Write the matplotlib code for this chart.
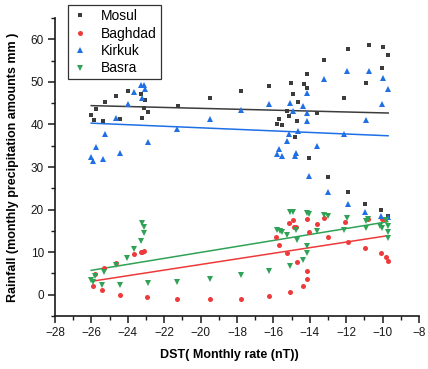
import numpy as np
import matplotlib
matplotlib.use("Agg")
import matplotlib.pyplot as plt
from matplotlib.ticker import MultipleLocator

plt.rcParams['font.family'] = ['Liberation Sans', 'DejaVu Sans']

# Monthly DST (nT) vs. monthly precipitation (mm) for four stations
mosul_x = [-26.01, -25.87, -25.74, -25.38, -25.27, -24.66, -24.44, -23.99, -23.30, -23.21,
           -23.12, -23.08, -22.89, -21.26, -19.49, -17.76, -16.22, -15.05, -14.34, -14.15,
           -14.14, -14.91, -14.67, -15.25, -15.14, -15.71, -15.82, -15.52, -14.72, -13.60,
           -14.83, -14.05, -13.00, -11.90, -13.21, -11.92, -10.76, -9.97, -9.69, -10.04,
           -10.91, -12.10, -10.96, -10.10, -9.73]
mosul_y = [42.15, 40.98, 43.56, 40.82, 45.20, 46.67, 41.38, 47.78, 47.24, 41.52,
           43.86, 45.83, 42.93, 44.43, 46.20, 47.85, 49.06, 49.72, 49.46, 51.76,
           48.60, 47.14, 45.27, 43.14, 42.04, 41.33, 40.00, 39.81, 40.70, 42.79,
           36.96, 32.04, 27.70, 24.19, 55.20, 57.68, 58.62, 58.15, 56.21, 53.28,
           49.72, 46.18, 21.38, 19.86, 18.57]

baghdad_x = [-25.92, -25.79, -25.40, -25.29, -24.66, -24.44, -23.66, -23.30, -23.21, -23.10,
             -22.92, -21.28, -19.51, -17.76, -16.22, -15.85, -15.71, -15.26, -14.68, -14.18,
             -14.14, -14.36, -15.08, -15.15, -14.94, -14.87, -14.75, -14.18, -14.07, -13.61,
             -13.23, -13.02, -12.09, -11.91, -10.97, -10.82, -10.10, -9.79, -9.73, -10.02,
             -9.88]
baghdad_y = [2.11, 4.92, 1.01, 6.32, 7.56, 0.00, 9.60, 10.07, 10.14, 10.23,
             -0.63, -1.01, -1.01, -0.94, -0.23, 13.47, 11.71, 9.77, 7.78, 5.62,
             3.75, 2.06, 0.63, 16.79, 17.45, 15.93, 15.81, 17.80, 14.82, 16.58,
             18.03, 13.58, 16.98, 12.30, 11.08, 17.75, 9.88, 8.85, 7.96, 17.73,
             17.87]

kirkuk_x = [-26.01, -25.90, -25.74, -25.38, -25.26, -24.66, -24.44, -24.01, -23.66, -23.30,
            -23.12, -23.08, -23.20, -22.89, -21.28, -19.49, -17.76, -16.22, -15.08, -14.90,
            -14.36, -14.16, -14.14, -14.16, -14.67, -15.15, -15.25, -15.71, -15.83, -15.52,
            -14.74, -14.83, -13.60, -14.05, -13.22, -11.94, -10.76, -9.97, -9.70, -10.04,
            -10.91, -12.10, -13.01, -11.92, -10.96, -10.10, -9.73]
kirkuk_y = [32.25, 31.38, 34.59, 31.85, 37.66, 41.41, 33.33, 44.89, 47.61, 49.18,
            49.37, 48.31, 46.18, 35.95, 38.83, 41.38, 43.49, 44.80, 45.04, 43.09,
            44.26, 47.47, 42.69, 40.75, 38.41, 37.87, 36.07, 34.15, 32.95, 32.55,
            33.18, 32.67, 35.01, 27.87, 50.66, 52.46, 52.53, 50.98, 48.41, 44.80,
            41.15, 37.70, 24.19, 21.24, 19.37, 18.50, 18.22]

basra_x = [-26.01, -25.89, -25.78, -25.40, -25.29, -24.66, -24.44, -24.03, -23.66, -23.30,
           -23.12, -23.12, -23.21, -22.91, -21.30, -19.51, -17.76, -16.22, -15.10, -14.90,
           -14.14, -14.07, -13.23, -13.01, -15.80, -15.66, -15.52, -15.26, -14.74, -14.68,
           -14.18, -14.14, -14.36, -15.08, -13.60, -12.10, -11.93, -10.93, -10.89, -10.78,
           -10.12, -10.02, -9.72, -9.72, -9.72, -9.82]
basra_y = [3.35, 2.88, 4.29, 2.34, 5.32, 6.96, 2.27, 8.67, 10.70, 12.65,
           14.45, 16.00, 16.86, 2.74, 3.04, 3.68, 4.52, 5.50, 19.51, 19.51,
           19.20, 18.85, 18.66, 18.57, 15.11, 15.06, 14.82, 13.93, 15.11, 12.83,
           11.36, 9.77, 8.24, 6.79, 15.04, 15.27, 18.10, 15.57, 17.33, 17.80,
           16.23, 15.74, 16.23, 14.68, 13.28, 17.45]

series = [
    ("Mosul", mosul_x, mosul_y, "s", "#3c3c3c", 3.2),
    ("Baghdad", baghdad_x, baghdad_y, "o", "#ee3a3a", 3.6),
    ("Kirkuk", kirkuk_x, kirkuk_y, "^", "#1f6fe5", 4.0),
    ("Basra", basra_x, basra_y, "v", "#2fa255", 4.0),
]

fig = plt.figure(figsize=(4.28, 3.69), dpi=100)
ax = fig.add_axes([0.1285, 0.1436, 0.8505, 0.8076])

handles = []
for name, xs, ys, mk, col, ms in series:
    xs = np.asarray(xs)
    ys = np.asarray(ys)
    h, = ax.plot(xs, ys, linestyle="none", marker=mk, color=col, markersize=ms,
                 markeredgewidth=0, label=name, zorder=3)
    handles.append(h)
    # least-squares trend line across the DST range of the series
    slope, intercept = np.polyfit(xs, ys, 1)
    xf = np.array([xs.min(), xs.max()])
    ax.plot(xf, slope * xf + intercept, color=col, linewidth=1.1, zorder=2)

ax.set_xlim(-28, -8)
ax.set_ylim(-5, 65)
ax.xaxis.set_major_locator(MultipleLocator(2))
ax.xaxis.set_minor_locator(MultipleLocator(1))
ax.yaxis.set_minor_locator(MultipleLocator(5))
ax.set_yticks([0, 10, 20, 30, 40, 50, 60])

for s in ("top", "right"):
    ax.spines[s].set_visible(False)
for s in ("left", "bottom"):
    ax.spines[s].set_linewidth(1.2)
    ax.spines[s].set_color("#1a1a1a")

ax.tick_params(which="major", direction="out", length=5, width=1.1, labelsize=8.5,
               colors="#1a1a1a", pad=3)
ax.tick_params(which="minor", direction="out", length=3, width=1.0, colors="#1a1a1a")

ax.set_xlabel("DST( Monthly rate (nT))", fontsize=9, fontweight="bold")
ax.set_ylabel("Rainfall (monthly precipitation amounts mm )", fontsize=9, fontweight="bold")
ax.xaxis.set_label_coords(0.48, -0.11)
ax.yaxis.set_label_coords(-0.10, 0.5)

leg = ax.legend(handles=handles, loc="upper left", bbox_to_anchor=(0.159, 0.986),
                bbox_transform=fig.transFigure, borderaxespad=0, fontsize=10,
                frameon=True, fancybox=False, shadow=False, handlelength=1.2,
                handletextpad=0.9, labelspacing=0.25, borderpad=0.28, markerscale=1.0)
leg.get_frame().set_edgecolor("#333333")
leg.get_frame().set_linewidth(0.9)
leg.get_frame().set_alpha(1)

fig.savefig("out.png", dpi=100)
